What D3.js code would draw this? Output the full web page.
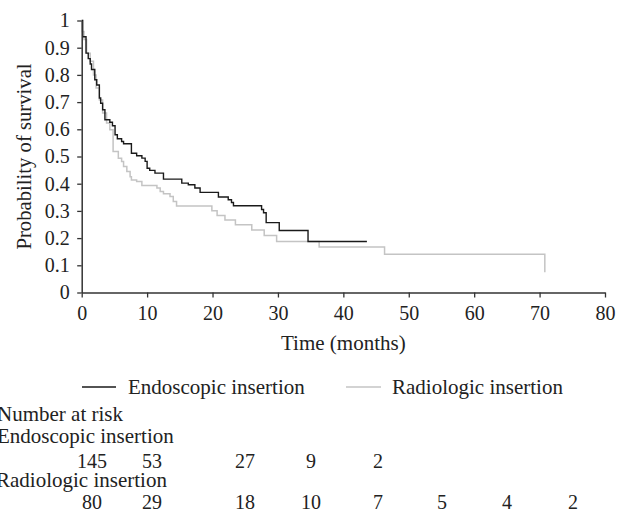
<!DOCTYPE html>
<html>
<head>
<meta charset="utf-8">
<script src="https://cdn.jsdelivr.net/npm/d3@7"></script>
<style>
  body { margin: 0; background: #fff; }
  svg text { font-family: "Liberation Serif", "Times New Roman", serif; fill: #222; }
</style>
</head>
<body>
<div id="graph_draw"></div>
<script>
// Kaplan-Meier steps: [time (months), survival]
var endoTimes = [0, 0.15, 0.66, 1.0, 1.3, 1.5, 2.0, 2.3, 2.7, 2.9, 3.2, 3.55, 4.3, 4.7, 5.1, 5.45, 6.1, 6.4, 7.6, 8.4, 9.2, 9.7, 10.0, 10.4, 11.2, 12.5, 15.3, 16.3, 17.3, 18.1, 20.9, 22.4, 22.9, 23.2, 27.5, 27.8, 28.2, 30.2, 34.6, 43.6];
var endoSurv  = [1, 0.94, 0.88, 0.86, 0.84, 0.82, 0.782, 0.763, 0.715, 0.696, 0.672, 0.635, 0.626, 0.613, 0.58, 0.565, 0.555, 0.547, 0.512, 0.503, 0.494, 0.482, 0.457, 0.449, 0.439, 0.417, 0.402, 0.396, 0.384, 0.368, 0.351, 0.341, 0.331, 0.319, 0.305, 0.293, 0.257, 0.228, 0.1875, 0.1875];

var radioTimes = [0, 0.1, 0.35, 0.75, 1.3, 1.8, 2.2, 2.7, 3.2, 3.8, 4.3, 4.8, 5.6, 6.1, 6.4, 6.9, 7.4, 7.6, 8.4, 9.2, 11.5, 12.0, 12.5, 13.5, 14.0, 14.5, 19.9, 20.7, 21.9, 23.5, 26.0, 27.9, 29.8, 36.3, 46.3, 70.8];
var radioSurv  = [1, 0.96, 0.93, 0.88, 0.85, 0.80, 0.752, 0.708, 0.66, 0.623, 0.598, 0.518, 0.494, 0.482, 0.463, 0.445, 0.426, 0.414, 0.408, 0.393, 0.384, 0.371, 0.363, 0.353, 0.335, 0.318, 0.301, 0.283, 0.267, 0.249, 0.23, 0.21, 0.1875, 0.167, 0.141, 0.074];

var xTicks = [0, 10, 20, 30, 40, 50, 60, 70, 80];
var yTicks = [0, 0.1, 0.2, 0.3, 0.4, 0.5, 0.6, 0.7, 0.8, 0.9, 1];

var groupNames = ["Endoscopic insertion", "Radiologic insertion"];
var groupColors = ["#1a1a1a", "#c4c4c4"];
var endoRisk = [145, 53, 27, 9, 2];
var radioRisk = [80, 29, 18, 10, 7, 5, 4, 2];

// layout
var W = 629, H = 514;
var riskColX = [92, 152, 245, 311, 378, 442, 507, 573];
var numSize = 20;   // digits
var wordSize = 21;  // words

var svg = d3.select("#graph_draw").append("svg")
    .attr("width", W)
    .attr("height", H);

var x = d3.scaleLinear().domain([0, 80]).range([81.7, 605]);
var y = d3.scaleLinear().domain([0, 1]).range([292.5, 20.5]);

function toPoints(times, surv) {
    return times.map(function(t, i) { return {t: t, s: surv[i]}; });
}

var line = d3.line()
    .x(function(d) { return x(d.t); })
    .y(function(d) { return y(d.s); })
    .curve(d3.curveStepAfter);

// curves (grey below, black on top)
svg.append("path")
    .datum(toPoints(radioTimes, radioSurv))
    .attr("fill", "none")
    .attr("stroke", groupColors[1])
    .attr("stroke-width", 1.5)
    .attr("d", line);

svg.append("path")
    .datum(toPoints(endoTimes, endoSurv))
    .attr("fill", "none")
    .attr("stroke", groupColors[0])
    .attr("stroke-width", 1.4)
    .attr("d", line);

// x axis
var xAxis = svg.append("g")
    .attr("transform", "translate(0," + y(0) + ")")
    .call(d3.axisBottom(x).tickValues(xTicks).tickFormat(d3.format("d")).tickSize(5).tickSizeOuter(0));

// y axis
var yAxis = svg.append("g")
    .attr("transform", "translate(" + x(0) + ",0)")
    .call(d3.axisLeft(y).tickValues(yTicks).tickFormat(function(d) { return d === 0 || d === 1 ? d : d3.format(".1f")(d); }).tickSize(4.5).tickPadding(7.5).tickSizeOuter(0));

[xAxis, yAxis].forEach(function(g) {
    g.select(".domain").attr("stroke", "#333").attr("stroke-width", 1.5);
    g.selectAll(".tick line").attr("stroke", "#333").attr("stroke-width", 1.3);
    g.selectAll("text")
        .attr("font-family", null)
        .style("font-size", numSize + "px")
        .attr("fill", "#222");
});
xAxis.selectAll("text").attr("y", 27.5).attr("dy", 0);

// axis titles
svg.append("text")
    .attr("x", (x(0) + x(80)) / 2)
    .attr("y", 350)
    .attr("text-anchor", "middle")
    .style("font-size", wordSize + "px")
    .text("Time (months)");

svg.append("text")
    .attr("transform", "translate(31," + (y(0) + y(1)) / 2 + ") rotate(-90)")
    .attr("text-anchor", "middle")
    .style("font-size", (wordSize - 0.3) + "px")
    .text("Probability of survival");

// legend
var legendX = [[82, 116, 128], [346, 381, 392]];
groupNames.forEach(function(name, i) {
    svg.append("line")
        .attr("x1", legendX[i][0]).attr("x2", legendX[i][1])
        .attr("y1", 387).attr("y2", 387)
        .attr("stroke", groupColors[i])
        .attr("stroke-width", 1.5);
    svg.append("text")
        .attr("x", legendX[i][2])
        .attr("y", 394)
        .style("font-size", wordSize + "px")
        .text(name);
});

// number at risk table
svg.append("text").attr("x", -3).attr("y", 421).style("font-size", wordSize + "px").text("Number at risk");
svg.append("text").attr("x", -3).attr("y", 443).style("font-size", wordSize + "px").text(groupNames[0]);
svg.append("text").attr("x", -4).attr("y", 487).style("font-size", wordSize + "px").text(groupNames[1]);

svg.selectAll(".riskEndo").data(endoRisk).enter().append("text")
    .attr("class", "riskEndo")
    .attr("x", function(d, i) { return riskColX[i]; })
    .attr("y", 468)
    .attr("text-anchor", "middle")
    .style("font-size", numSize + "px")
    .text(function(d) { return d; });

svg.selectAll(".riskRadio").data(radioRisk).enter().append("text")
    .attr("class", "riskRadio")
    .attr("x", function(d, i) { return riskColX[i]; })
    .attr("y", 508.5)
    .attr("text-anchor", "middle")
    .style("font-size", numSize + "px")
    .text(function(d) { return d; });
</script>
</body>
</html>
